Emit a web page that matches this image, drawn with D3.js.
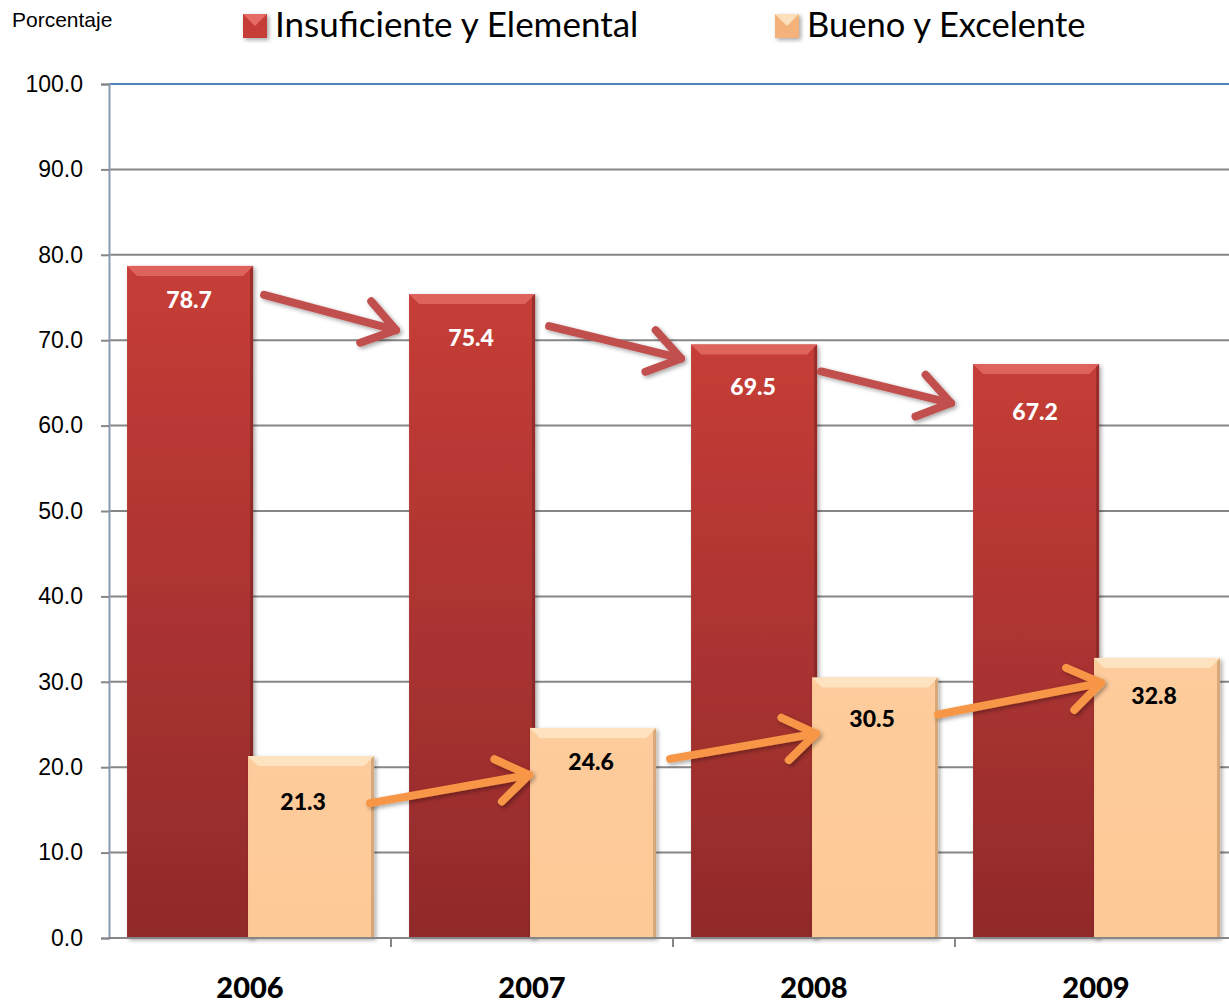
<!DOCTYPE html>
<html>
<head>
<meta charset="utf-8">
<script src="https://cdnjs.cloudflare.com/ajax/libs/d3/7.8.5/d3.min.js"></script>
<title>Porcentaje por nivel de logro</title>
<style>
  body { margin: 0; background: #fff; }
  svg { display: block; }
  .ytick text { font-family: "Liberation Sans", Arial, sans-serif; font-size: 23px; fill: #000; }
  .xlab { font-family: Lato, "Open Sans", sans-serif; font-size: 29px; font-weight: 900; fill: #000; }
  .val { font-family: Lato, "Open Sans", sans-serif; font-size: 23px; font-weight: 900; }
  .legend text { font-family: Lato, "Open Sans", sans-serif; fill: #000; }
</style>
</head>
<body>
<svg id="chart"></svg>
<script>
var years = ['2006', '2007', '2008', '2009'];
var insuficiente = [78.7, 75.4, 69.5, 67.2];
var bueno = [21.3, 24.6, 30.5, 32.8];
var yTicks = [0, 10, 20, 30, 40, 50, 60, 70, 80, 90, 100];
var seriesNames = ['Insuficiente y Elemental', 'Bueno y Excelente'];

// label nudges below bar top, in px (hand placed in the original)
var redLabelDy = [42, 52, 51, 56];
var beigeLabelDy = [54, 42, 49, 46];
var beigeLabelDx = [-8, -2, -3, -3];

// arrow nudges: [start dx from bar right, start dy, end dx from next bar left, end dy]
var redArrowNudge = [[11, 29, -13, 36], [14, 32, -10, 14], [4, 27, -22, 39]];
var beigeArrowNudge = [[-4, 47, -1, 47], [14, 31, 4, 56], [0, 37, 7, 25]];

var width = 1229, height = 1002;
var plotL = 109, plotT = 84, plotB = 938, plotR = 1237;

var svg = d3.select('#chart').attr('width', width).attr('height', height);

var defs = svg.append('defs');
var gRed = defs.append('linearGradient').attr('id', 'gRed')
  .attr('x1', 0).attr('y1', 0).attr('x2', 0).attr('y2', 1);
gRed.append('stop').attr('offset', '0%').attr('stop-color', '#c63d37');
gRed.append('stop').attr('offset', '100%').attr('stop-color', '#912a2b');
var gBeige = defs.append('linearGradient').attr('id', 'gBeige')
  .attr('x1', 0).attr('y1', 0).attr('x2', 0).attr('y2', 1);
gBeige.append('stop').attr('offset', '0%').attr('stop-color', '#fdcc9c');
gBeige.append('stop').attr('offset', '100%').attr('stop-color', '#fdc996');
var sh = defs.append('filter').attr('id', 'shadow')
  .attr('x', '-10%').attr('y', '-10%').attr('width', '130%').attr('height', '130%');
sh.append('feDropShadow').attr('dx', 2).attr('dy', 2).attr('stdDeviation', 2)
  .attr('flood-color', '#000').attr('flood-opacity', 0.35);

var y = d3.scaleLinear().domain([0, 100]).range([plotB, plotT]);
var x = d3.scaleBand().domain(years).range([plotL, plotR]).paddingInner(0).paddingOuter(0);
var bw = x.bandwidth();
var barW = bw * 0.447;
var gap = bw * 0.064;
var overlap = bw * 0.018;

function redX(d) { return x(d) + gap; }
function beigeX(d) { return x(d) + gap + barW - overlap; }

// gridlines
svg.append('g').selectAll('line').data(yTicks.slice(1)).enter().append('line')
  .attr('x1', plotL).attr('x2', plotR)
  .attr('y1', function(d) { return y(d); }).attr('y2', function(d) { return y(d); })
  .attr('stroke', function(d) { return d === 100 ? '#4f81bd' : '#868686'; })
  .attr('stroke-width', 2);

// y axis
var yAxis = svg.append('g').attr('class', 'ytick')
  .attr('transform', 'translate(' + plotL + ',0)')
  .call(d3.axisLeft(y).tickValues(yTicks).tickFormat(d3.format('.1f')).tickSize(8).tickPadding(18));
yAxis.select('.domain').attr('stroke', '#8a99ad').attr('stroke-width', 2);
yAxis.selectAll('.tick line').attr('stroke', '#868686').attr('stroke-width', 2);

function bevelBar(g, x0, w, v, fill, light, dark) {
  var y0 = y(v), h = plotB - y0, b = 10;
  g.append('rect').attr('x', x0).attr('y', y0).attr('width', w).attr('height', h)
    .attr('fill', fill).attr('filter', 'url(#shadow)');
  g.append('polygon')
    .attr('points', [[x0, y0], [x0 + w, y0], [x0 + w - b, y0 + b], [x0 + b, y0 + b]].join(' '))
    .attr('fill', light).attr('opacity', 0.85);
  g.append('polygon')
    .attr('points', [[x0 + w, y0], [x0 + w, plotB], [x0 + w - 3, plotB], [x0 + w - 3, y0 + 3]].join(' '))
    .attr('fill', dark).attr('opacity', 0.5);
}

var bars = svg.append('g');
years.forEach(function(yr, i) {
  bevelBar(bars, redX(yr), barW, insuficiente[i], 'url(#gRed)', '#e26a64', '#6e1f1f');
  bevelBar(bars, beigeX(yr), barW, bueno[i], 'url(#gBeige)', '#fee6c8', '#b08357');
});

// x axis
svg.append('line').attr('x1', plotL).attr('x2', plotR).attr('y1', plotB).attr('y2', plotB)
  .attr('stroke', '#868686').attr('stroke-width', 2);
svg.append('g').selectAll('line').data(years.slice(1)).enter().append('line')
  .attr('x1', function(d) { return x(d); }).attr('x2', function(d) { return x(d); })
  .attr('y1', plotB).attr('y2', plotB + 9)
  .attr('stroke', '#868686').attr('stroke-width', 2);
svg.append('g').selectAll('text').data(years).enter().append('text')
  .attr('class', 'xlab')
  .attr('x', function(d) { return x(d) + bw / 2; })
  .attr('y', 998)
  .attr('text-anchor', 'middle')
  .text(function(d) { return d; });

// value labels
svg.append('g').selectAll('text').data(insuficiente).enter().append('text')
  .attr('class', 'val').attr('fill', '#fff').attr('text-anchor', 'middle')
  .attr('x', function(d, i) { return redX(years[i]) + barW / 2 - 1; })
  .attr('y', function(d, i) { return y(d) + redLabelDy[i]; })
  .text(function(d) { return d3.format('.1f')(d); });
svg.append('g').selectAll('text').data(bueno).enter().append('text')
  .attr('class', 'val').attr('fill', '#000').attr('text-anchor', 'middle')
  .attr('x', function(d, i) { return beigeX(years[i]) + barW / 2 + beigeLabelDx[i]; })
  .attr('y', function(d, i) { return y(d) + beigeLabelDy[i]; })
  .text(function(d) { return d3.format('.1f')(d); });

// trend arrows between consecutive years
function arrow(g, x1, y1, x2, y2, color) {
  var a = Math.atan2(y2 - y1, x2 - x1), L = 38, spread = 0.6;
  var p = g.append('g').attr('filter', 'url(#shadow)')
    .attr('stroke', color).attr('stroke-width', 8).attr('stroke-linecap', 'round')
    .attr('stroke-linejoin', 'round').attr('fill', 'none');
  p.append('line').attr('x1', x1).attr('y1', y1).attr('x2', x2).attr('y2', y2);
  p.append('polyline').attr('points', [
    [x2 - L * Math.cos(a - spread), y2 - L * Math.sin(a - spread)],
    [x2, y2],
    [x2 - L * Math.cos(a + spread), y2 - L * Math.sin(a + spread)]
  ].join(' '));
}
var arrows = svg.append('g');
for (var i = 0; i < years.length - 1; i++) {
  var r = redArrowNudge[i], b = beigeArrowNudge[i];
  arrow(arrows,
    redX(years[i]) + barW + r[0], y(insuficiente[i]) + r[1],
    redX(years[i + 1]) + r[2], y(insuficiente[i + 1]) + r[3], '#c0504d');
  arrow(arrows,
    beigeX(years[i]) + barW + b[0], y(bueno[i]) + b[1],
    beigeX(years[i + 1]) + b[2], y(bueno[i + 1]) + b[3], '#f79646');
}

// unit label
svg.append('text').attr('x', 12).attr('y', 27)
  .attr('font-family', '"Liberation Sans", Arial, sans-serif').attr('font-size', 21)
  .text('Porcentaje');

// legend
var legendX = [243, 775];
var legendSize = [35, 34.5];
var legendFill = [['#c63d37', '#e8716b'], ['#f4b27a', '#fde3c2']];
var lg = svg.append('g').attr('class', 'legend');
seriesNames.forEach(function(name, i) {
  var g = lg.append('g').attr('transform', 'translate(' + legendX[i] + ',14)');
  g.append('rect').attr('width', 24).attr('height', 24).attr('fill', legendFill[i][0])
    .attr('filter', 'url(#shadow)');
  g.append('polygon').attr('points', '0,0 24,0 12,12').attr('fill', legendFill[i][1]).attr('opacity', 0.9);
  g.append('text').attr('x', 32).attr('y', 23).attr('font-size', legendSize[i]).text(name);
});
</script>
</body>
</html>
